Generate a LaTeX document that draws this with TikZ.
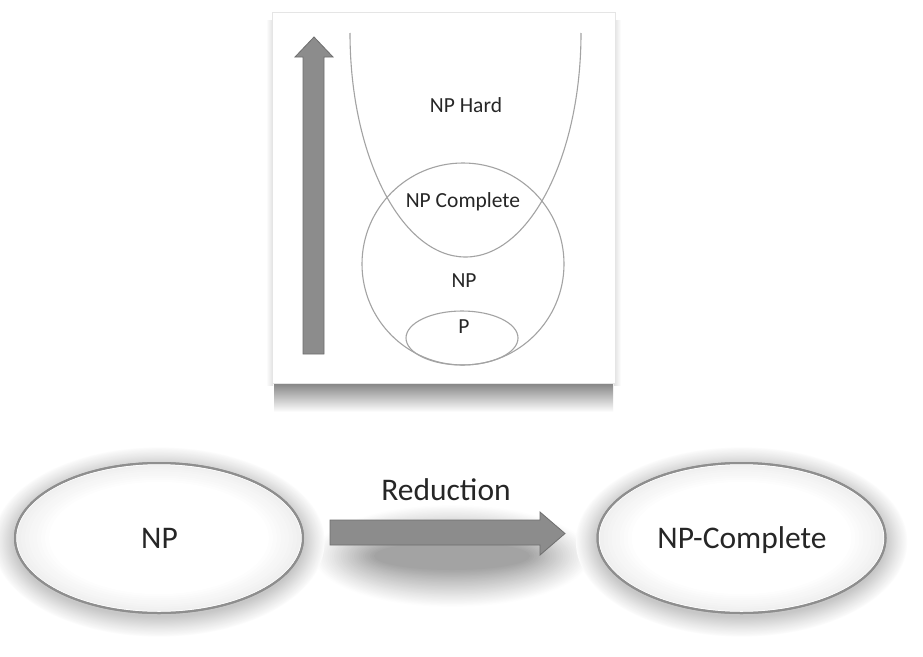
\documentclass[tikz,border=0pt]{standalone}
\usepackage{fontspec}
\setmainfont{Carlito}
\usetikzlibrary{shapes.geometric}
\definecolor{linegray}{HTML}{A3A3A3}
\definecolor{ringgray}{HTML}{8E8E8E}
\definecolor{arrowfill}{HTML}{8C8C8C}
\definecolor{arrowedge}{HTML}{6E6E6E}
\definecolor{txt}{HTML}{262626}
\tikzset{
  setline/.style={draw=linegray, line width=1.1pt},
  smalltxt/.style={font=\fontsize{21.5}{24}\selectfont, text=txt, anchor=base, inner sep=0pt},
  bigtxt/.style={font=\fontsize{31.5}{35}\selectfont, text=txt, anchor=base, inner sep=0pt},
  blob/.style={ellipse, draw=ringgray, line width=2pt, minimum width=288pt, minimum height=150pt,
     inner sep=0pt, fill=white},
  blockarrow/.style={fill=arrowfill, draw=arrowedge, line width=0.8pt, line join=miter},
  panel/.style={fill=white, draw=black!10, line width=0.6pt}
}
\begin{document}
\begin{tikzpicture}[x=1pt,y=-1pt]
\useasboundingbox[fill=white] (0,0) rectangle (923,656);
% panel shadow and panel
\shade[top color=black!50, bottom color=white] (274,382) rectangle (613,412);
\shade[left color=white, right color=black!12] (266,20) rectangle (273,385);
\shade[left color=black!12, right color=white] (614,20) rectangle (621,385);
\node[panel, minimum width=343pt, minimum height=371pt, inner sep=0pt] (pan) at (443.5,197.5) {};
% vertical arrow
\draw[blockarrow] (303,354) -- (303,57) -- (295,57) -- (314,37) -- (333,57) -- (324,57) -- (324,354) -- cycle;
% NP hard U curve
\coordinate (ul) at (350,33);
\draw[setline] (ul) arc[start angle=180, end angle=0, x radius=115.5, y radius=224];
% NP circle
\node[circle, setline, minimum size=202pt, inner sep=0pt] (npc) at (463,264) {};
% P ellipse
\node[ellipse, setline, minimum width=112pt, minimum height=54pt, inner sep=0pt] (pe) at (462,338) {};
% labels
\node[smalltxt] (lhard) at (466,112) {NP Hard};
\node[smalltxt] (lcomp) at (463,207) {NP Complete};
\node[smalltxt] (lnp) at (464,287) {NP};
\node[smalltxt] (lp) at (464,333) {P};
% soft shadow under the reduction arrow
\foreach \i in {0,...,28}{
  \pgfmathsetmacro\tt{\i/28}
  \pgfmathsetmacro\cc{36*(\tt)^1.1}
  \fill[black!\cc] (452,556) ellipse[x radius=140-62*\tt, y radius=52-38*\tt];
}
% bottom halos (soft glow, drawn as concentric rings)
\foreach \cx in {159,741.5}{
  \foreach \i in {2,...,20}{
    \pgfmathsetmacro\dd{24*(1-\i/20)}
    \pgfmathsetmacro\cc{22*(\i/20)^1.1}
    \fill[black!\cc] (\cx,542) ellipse[x radius=144+\dd, y radius=75+0.9*\dd];
  }
}
\node[blob] (np) at (159,538) {};
\node[blob] (npcomp) at (741.5,538) {};
% faint inner shading of the ellipses
\foreach \cx in {159,741.5}{
  \foreach \i in {0,...,8}{
    \pgfmathsetmacro\cc{6*(1-\i/8)}
    \fill[black!\cc] (\cx,538) ellipse[x radius=142-4*\i, y radius=73-2.1*\i];
  }
  \fill[white] (\cx,538) ellipse[x radius=104, y radius=54];
}
\draw[ringgray, line width=2pt] (np.center) ellipse[x radius=144, y radius=75];
\draw[ringgray, line width=2pt] (npcomp.center) ellipse[x radius=144, y radius=75];
\node[bigtxt] (npl) at (159.5,548) {NP};
\node[bigtxt] (npcl) at (742,548) {NP-Complete};
% reduction arrow
\draw[blockarrow]
  (330,520) -- (540,520) -- (540,512) -- (565,533.5) -- (540,555) -- (540,545) -- (330,545) -- cycle;
\node[bigtxt] (red) at (446,500) {Reduction};
\end{tikzpicture}
\end{document}
